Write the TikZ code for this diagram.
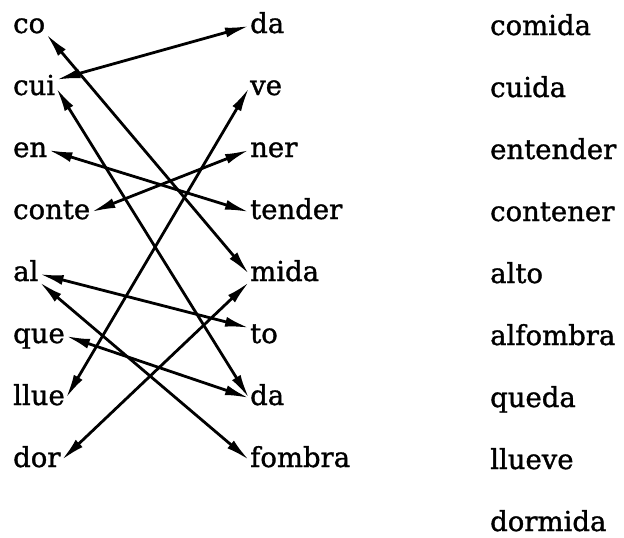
\documentclass[tikz,border=0pt]{standalone}
\usepackage{fontspec}
\newfontfamily\wordfont[FakeBold=1.2]{DejaVu Serif}
\usetikzlibrary{arrows.meta,positioning}

\begin{document}
\begin{tikzpicture}[>={Latex[length=24pt,width=10pt]}, x=1pt, y=-1pt, node distance=62pt,
    word/.style={anchor=base west, inner sep=1pt, text height=14pt, text depth=0pt,
      font=\wordfont\fontsize{27.5}{30}\selectfont},
    link/.style={<->, line width=2.8pt}]
    \useasboundingbox (0,0) rectangle (624,538);

    % syllables on the left
    \node[word] (co) at (12,33) {co};
    \node[word, below=of co.base west, anchor=base west] (cui) {cui};
    \node[word, below=of cui.base west, anchor=base west] (en) {en};
    \node[word, below=of en.base west, anchor=base west] (conte) {conte};
    \node[word, below=of conte.base west, anchor=base west] (al) {al};
    \node[word, below=of al.base west, anchor=base west] (que) {que};
    \node[word, below=of que.base west, anchor=base west] (llue) {llue};
    \node[word, below=of llue.base west, anchor=base west] (dor) {dor};

    % syllables on the right
    \node[word] (da) at (249,33) {da};
    \node[word, below=of da.base west, anchor=base west] (ve) {ve};
    \node[word, below=of ve.base west, anchor=base west] (ner) {ner};
    \node[word, below=of ner.base west, anchor=base west] (tender) {tender};
    \node[word, below=of tender.base west, anchor=base west] (mida) {mida};
    \node[word, below=of mida.base west, anchor=base west] (to) {to};
    \node[word, below=of to.base west, anchor=base west] (dadown) {da};
    \node[word, below=of dadown.base west, anchor=base west] (fombra) {fombra};

    % whole words
    \node[word] (comida) at (489,35) {comida};
    \node[word, below=of comida.base west, anchor=base west] (cuida) {cuida};
    \node[word, below=of cuida.base west, anchor=base west] (entender) {entender};
    \node[word, below=of entender.base west, anchor=base west] (contener) {contener};
    \node[word, below=of contener.base west, anchor=base west] (alto) {alto};
    \node[word, below=of alto.base west, anchor=base west] (alfombra) {alfombra};
    \node[word, below=of alfombra.base west, anchor=base west] (queda) {queda};
    \node[word, below=of queda.base west, anchor=base west] (llueve) {llueve};
    \node[word, below=of llueve.base west, anchor=base west] (dormida) {dormida};

    \draw[link] (cui.north east) -- (da.west);
    \draw[link] (co.south east) -- (mida.west);
    \draw[link] (cui.east) -- (dadown.west);
    \draw[link] (en.east) -- (tender.west);
    \draw[link] (conte.east) -- (ner.west);
    \draw[link] (llue.east) -- (ve.west);
    \draw[link] (al.east) -- (to.north west);
    \draw[link] (al.south east) -- (fombra.west);
    \draw[link] (que.east) -- (dadown.west);
    \draw[link] (dor.east) -- (mida.south west);
  \end{tikzpicture}
\end{document}
